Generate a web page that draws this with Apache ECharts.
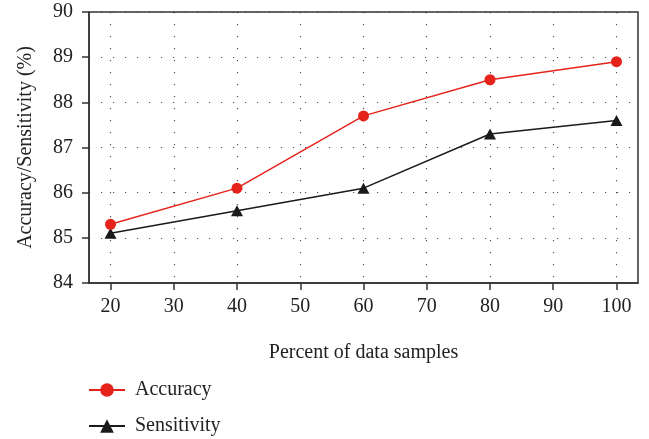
<!DOCTYPE html>
<html><head><meta charset="utf-8">
<script src="https://cdn.jsdelivr.net/npm/echarts@6/dist/echarts.min.js"></script>
<style>html,body{margin:0;padding:0;background:#fff}#c{width:649px;height:439px}</style>
</head><body><div id="c"></div>
<script>
const xValues = [20, 40, 60, 80, 100];
const accuracy = [85.3, 86.1, 87.7, 88.5, 88.9];
const sensitivity = [85.1, 85.6, 86.1, 87.3, 87.6];
const xTicks = [20, 30, 40, 50, 60, 70, 80, 90, 100];
const seriesNames = ['Accuracy', 'Sensitivity'];

const font = '"Liberation Serif", "DejaVu Serif", serif';
const legendText = {fontFamily: font, fontSize: 20, color: '#222', padding: [0, 0, 0, 5]};
const chart = echarts.init(document.getElementById('c'));
chart.setOption({
  animation: false,
  textStyle: {fontFamily: font},
  grid: {left: 89, right: 11, top: 12, bottom: 156, containLabel: false},
  xAxis: {
    type: 'value', min: 16.6, max: 103.4,
    name: 'Percent of data samples', nameLocation: 'middle', nameGap: 60,
    nameTextStyle: {fontFamily: font, fontSize: 20, color: '#222', verticalAlign: 'top'},
    axisLine: {show: true, lineStyle: {color: '#333', width: 1.5}},
    axisTick: {show: true, length: 7, customValues: xTicks, lineStyle: {color: '#333', width: 1.5}},
    axisLabel: {customValues: xTicks, fontFamily: font, fontSize: 20, color: '#222', margin: 14},
    splitLine: {show: true, lineStyle: {color: '#555', width: 1.2, type: [1.2, 10.8]}}
  },
  yAxis: {
    type: 'value', min: 84, max: 90, interval: 1,
    name: 'Accuracy/Sensitivity (%)', nameLocation: 'middle', nameGap: 53,
    nameTextStyle: {fontFamily: font, fontSize: 20, color: '#222'},
    axisLine: {show: true, lineStyle: {color: '#333', width: 1.5}},
    axisTick: {show: true, length: 7, lineStyle: {color: '#333', width: 1.5}},
    axisLabel: {fontFamily: font, fontSize: 20, color: '#222', margin: 16},
    splitLine: {show: true, lineStyle: {color: '#555', width: 1.2, type: [1.2, 10.8]}}
  },
  legend: [
    {left: 83, top: 375, itemWidth: 36, itemHeight: 17, textStyle: legendText, data: [seriesNames[0]]},
    {left: 83, top: 411, itemWidth: 36, itemHeight: 17, textStyle: legendText, data: [seriesNames[1]]}
  ],
  graphic: [{
    type: 'rect', shape: {x: 89, y: 12, width: 549, height: 271},
    style: {fill: 'none', stroke: '#333', lineWidth: 1.5}, silent: true, z: 10
  }],
  series: [
    {
      name: seriesNames[0], type: 'line', data: xValues.map((x, i) => [x, accuracy[i]]),
      symbol: 'circle', symbolSize: 11,
      itemStyle: {color: '#e5231b'}, lineStyle: {color: '#e5231b', width: 1.5}, z: 5
    },
    {
      name: seriesNames[1], type: 'line', data: xValues.map((x, i) => [x, sensitivity[i]]),
      symbol: 'triangle', symbolSize: [12, 11],
      itemStyle: {color: '#1a1a1a'}, lineStyle: {color: '#1a1a1a', width: 1.5}, z: 4
    }
  ]
});
</script></body></html>
